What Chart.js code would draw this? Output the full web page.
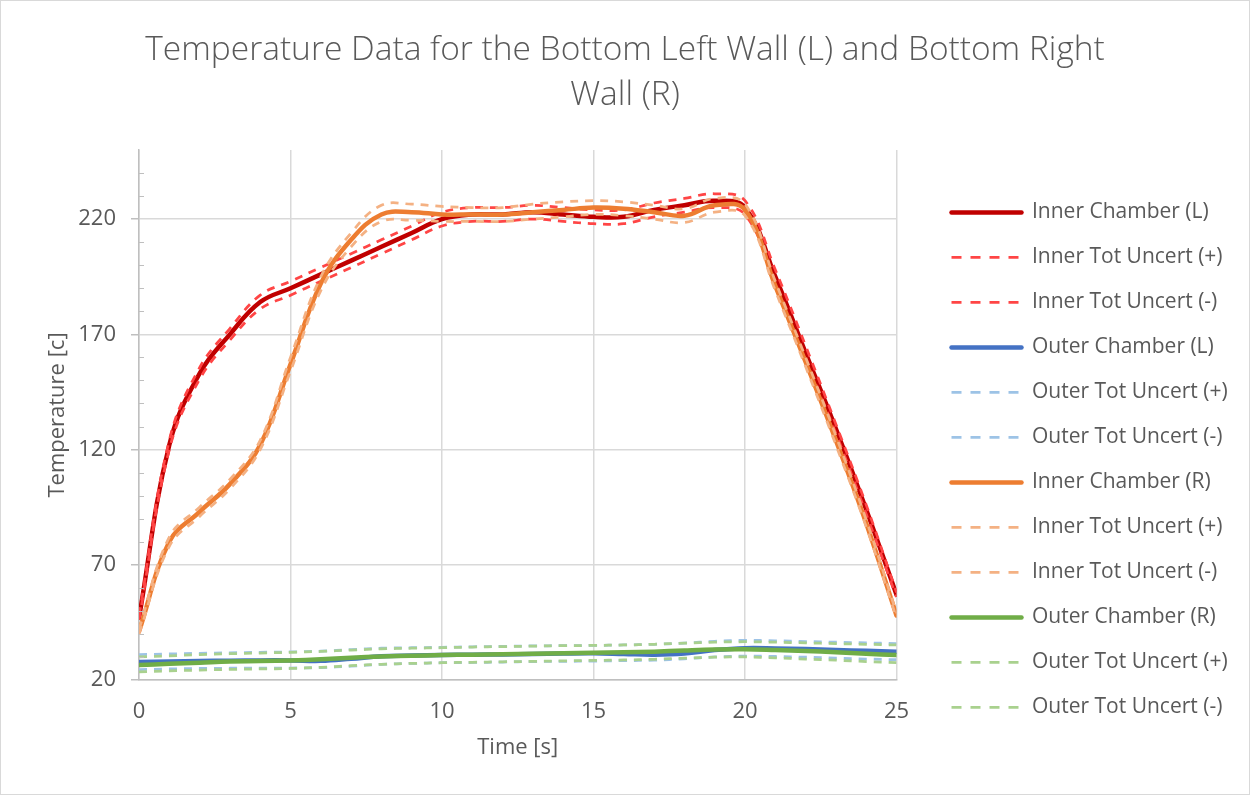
<!DOCTYPE html>
<html>
<head>
<meta charset="utf-8">
<title>Temperature Data</title>
<script src="https://cdn.jsdelivr.net/npm/chart.js@4.4.1/dist/chart.umd.min.js"></script>
<style>
    html, body { margin: 0; padding: 0; background: #fff; }
</style>
</head>
<body>
<canvas id="tempChart" width="1250" height="795"></canvas>
<script>
// values (one sample per second)
const timeS = [0, 1, 2, 3, 4, 5, 6, 7, 8, 9, 10, 11, 12, 13, 14, 15, 16, 17, 18, 19, 20, 21, 22, 23, 24, 25];

const innerL      = [47, 122, 153, 170, 184, 190, 196, 202, 208, 214, 220, 222, 222, 223, 222, 221, 221, 224, 226, 228, 225, 195, 162, 129, 94, 57];
const innerLPlus  = [48, 124, 155.5, 172.5, 187, 193, 199, 205, 211, 217, 223, 225, 225, 226, 225, 224, 224, 227, 229, 231, 228, 198, 165, 131, 96, 58];
const innerLMinus = [46, 120, 150.5, 167.5, 181, 187, 193, 199, 205, 211, 217, 219, 219, 220, 219, 218, 218, 221, 223, 225, 222, 192, 159, 127, 92, 56];

const outerL      = [27.8, 28, 28.2, 28.4, 28.5, 28.5, 28.3, 29.2, 30.3, 30.6, 30.8, 31, 31.1, 31.3, 31.5, 31.6, 31.3, 31, 31.5, 33, 33.8, 33.7, 33.4, 33, 32.7, 32.3];
const outerLPlus  = [31, 31.3, 31.6, 31.8, 32, 32.2, 32.5, 33.2, 33.8, 34, 34.2, 34.4, 34.6, 34.8, 34.9, 35, 35.2, 35.5, 36, 36.8, 37.2, 37, 36.7, 36.4, 36.1, 35.8];
const outerLMinus = [24.5, 24.8, 25, 25.1, 25.2, 25.2, 25.4, 26, 26.8, 27.2, 27.5, 27.6, 27.8, 28, 28.1, 28.2, 28.4, 28.6, 29.2, 30, 30.4, 30.2, 29.9, 29.5, 29.1, 28.8];

const innerR      = [41, 80, 93, 105, 122, 157, 192, 211, 222, 223, 222, 222, 222, 223, 224, 225, 224.5, 223, 221.5, 226, 224, 191, 158, 124, 88, 48];
const innerRPlus  = [42, 82, 95, 107, 124, 160, 195, 214, 226, 226.5, 225.5, 225, 225, 226.5, 227.5, 228, 227.5, 226, 224.5, 229, 226.5, 193, 160, 126, 89.5, 49];
const innerRMinus = [40, 78, 91, 103, 120, 154, 189, 208, 219, 219.5, 219, 219, 219, 220, 221, 222, 221.5, 220, 218.5, 223, 221.5, 189, 156, 122, 86.5, 47];

const outerR      = [26.5, 27, 27.5, 28, 28.2, 28.5, 29, 29.7, 30.2, 30.5, 30.8, 31, 31.2, 31.4, 31.6, 31.8, 32, 32.3, 32.8, 33.2, 33.3, 33, 32.6, 32, 31.4, 30.8];
const outerRPlus  = [30, 30.5, 31, 31.4, 31.7, 32, 32.4, 33, 33.5, 33.8, 34, 34.3, 34.5, 34.7, 34.9, 35, 35.2, 35.5, 36, 36.4, 36.6, 36.4, 36.1, 35.8, 35.5, 35.2];
const outerRMinus = [23.5, 24, 24.3, 24.6, 24.8, 25, 25.5, 26.2, 26.8, 27.2, 27.5, 27.7, 27.9, 28.1, 28.3, 28.5, 28.7, 29, 29.5, 29.9, 30, 29.6, 29.1, 28.6, 28, 27.5];

const yMin = 20, yMax = 250, yMajor = 50, yMinor = 10;
const xMin = 0, xMax = 25, xStep = 5;

const textColor = '#595959';
const gridColor = '#d9d9d9';
const axisColor = '#bfbfbf';
const legendGap = 31;       // space between plot area and legend
const legendDrop = 28;      // legend top below plot top
const plotDash = [8, 7];
const legendDash = [10, 9];

Chart.defaults.font.family = "'Open Sans', 'Noto Sans', sans-serif";
Chart.defaults.color = textColor;

const toPoints = (vals) => vals.map((v, i) => ({ x: timeS[i], y: v }));

const solidLine = (label, vals, color) => ({
    label,
    data: toPoints(vals),
    borderColor: color,
    backgroundColor: color,
    borderWidth: 4.5,
    borderCapStyle: 'round',
    borderJoinStyle: 'round',
    pointRadius: 0,
    tension: 0.4,
    fill: false
});

const dashedLine = (label, vals, color) => ({
    label,
    data: toPoints(vals),
    borderColor: color,
    backgroundColor: color,
    borderWidth: 2.75,
    borderDash: plotDash,
    borderCapStyle: 'butt',
    pointRadius: 0,
    tension: 0.4,
    fill: false
});

const datasets = [
    solidLine('Inner Chamber (L)', innerL, '#c00000'),
    dashedLine('Inner Tot Uncert (+)', innerLPlus, '#ff4545'),
    dashedLine('Inner Tot Uncert (-)', innerLMinus, '#ff4545'),
    solidLine('Outer Chamber (L)', outerL, '#4472c4'),
    dashedLine('Outer Tot Uncert (+)', outerLPlus, '#9dc3e6'),
    dashedLine('Outer Tot Uncert (-)', outerLMinus, '#9dc3e6'),
    solidLine('Inner Chamber (R)', innerR, '#ed7d31'),
    dashedLine('Inner Tot Uncert (+)', innerRPlus, '#f4b183'),
    dashedLine('Inner Tot Uncert (-)', innerRMinus, '#f4b183'),
    solidLine('Outer Chamber (R)', outerR, '#70ad47'),
    dashedLine('Outer Tot Uncert (+)', outerRPlus, '#a9d18e'),
    dashedLine('Outer Tot Uncert (-)', outerRMinus, '#a9d18e')
];
// later series sit on top, like the spreadsheet
datasets.forEach((ds, i) => { ds.order = datasets.length - i; });

const isMajorY = (v) => (v - yMin) % yMajor === 0;

// legend placement, minor y ticks and outer frame
const excelLook = {
    id: 'excelLook',
    beforeLayout(chart) {
        const lg = chart.legend;
        if (lg && !lg._gapWrapped) {
            const fit = lg.fit;
            lg.fit = function () {
                fit.call(this);
                this.width += legendGap;
            };
            lg._gapWrapped = true;
        }
    },
    afterLayout(chart) {
        const lg = chart.legend;
        if (!lg) return;
        const h = lg.bottom - lg.top;
        lg.left = chart.chartArea.right + legendGap;
        lg.top = chart.chartArea.top + legendDrop;
        lg.bottom = lg.top + h;
    },
    afterDraw(chart) {
        const { ctx, scales: { y } } = chart;
        ctx.save();
        ctx.strokeStyle = axisColor;
        ctx.lineWidth = 1;
        y.ticks.forEach(t => {
            if (isMajorY(t.value) || t.value === yMax) return;
            const py = Math.round(y.getPixelForValue(t.value)) + 0.5;
            ctx.beginPath();
            ctx.moveTo(y.right, py);
            ctx.lineTo(y.right + 5, py);
            ctx.stroke();
        });
        ctx.strokeStyle = gridColor;
        ctx.strokeRect(0.5, 0.5, chart.width - 1, chart.height - 1);
        ctx.restore();
    }
};

new Chart(document.getElementById('tempChart').getContext('2d'), {
    type: 'line',
    data: { datasets },
    plugins: [excelLook],
    options: {
        responsive: false,
        animation: false,
        layout: { padding: { left: 20, right: 20, top: 0, bottom: 34 } },
        plugins: {
            title: {
                display: true,
                text: ['Temperature Data for the Bottom Left Wall (L) and Bottom Right', 'Wall (R)'],
                color: textColor,
                font: { size: 33.5, weight: '300', lineHeight: 1.343 },
                padding: { top: 27.5, bottom: 32.5 }
            },
            legend: {
                position: 'right',
                align: 'start',
                labels: {
                    usePointStyle: true,
                    pointStyle: 'line',
                    pointStyleWidth: 70,
                    padding: 24,
                    color: textColor,
                    font: { size: 21 },
                    sort: (a, b) => a.datasetIndex - b.datasetIndex,
                    generateLabels(chart) {
                        const items = Chart.defaults.plugins.legend.labels.generateLabels(chart);
                        items.forEach(item => {
                            const ds = chart.data.datasets[item.datasetIndex];
                            item.lineWidth = ds.borderWidth;
                            item.lineCap = ds.borderCapStyle;
                            item.lineDash = ds.borderDash ? legendDash : [];
                            item.strokeStyle = ds.borderColor;
                        });
                        return items;
                    }
                }
            },
            tooltip: { enabled: false }
        },
        scales: {
            x: {
                type: 'linear',
                min: xMin,
                max: xMax,
                afterFit: (scale) => { scale.height = 81; },
                ticks: { stepSize: xStep, padding: 19, color: textColor, font: { size: 22 } },
                grid: { color: gridColor, lineWidth: 1.5, drawTicks: false },
                border: { color: axisColor, width: 1.5 },
                title: {
                    display: true,
                    text: 'Time [s]',
                    color: textColor,
                    font: { size: 22 },
                    padding: { top: 0, bottom: 0 }
                }
            },
            y: {
                type: 'linear',
                min: yMin,
                max: yMax,
                afterFit: (scale) => { scale.width = 119; },
                ticks: {
                    stepSize: yMinor,
                    autoSkip: false,
                    padding: 15,
                    color: textColor,
                    font: { size: 22 },
                    callback: (v) => isMajorY(v) ? String(v) : ''
                },
                grid: {
                    color: (c) => (c.tick && isMajorY(c.tick.value)) ? gridColor : 'rgba(0,0,0,0)',
                    tickColor: (c) => (c.tick && isMajorY(c.tick.value)) ? axisColor : 'rgba(0,0,0,0)',
                    lineWidth: 1.5,
                    tickLength: 8
                },
                border: { color: axisColor, width: 1.5 },
                title: {
                    display: true,
                    text: 'Temperature [c]',
                    color: textColor,
                    font: { size: 22 },
                    padding: { top: 25, bottom: 0 }
                }
            }
        }
    }
});
</script>
</body>
</html>
